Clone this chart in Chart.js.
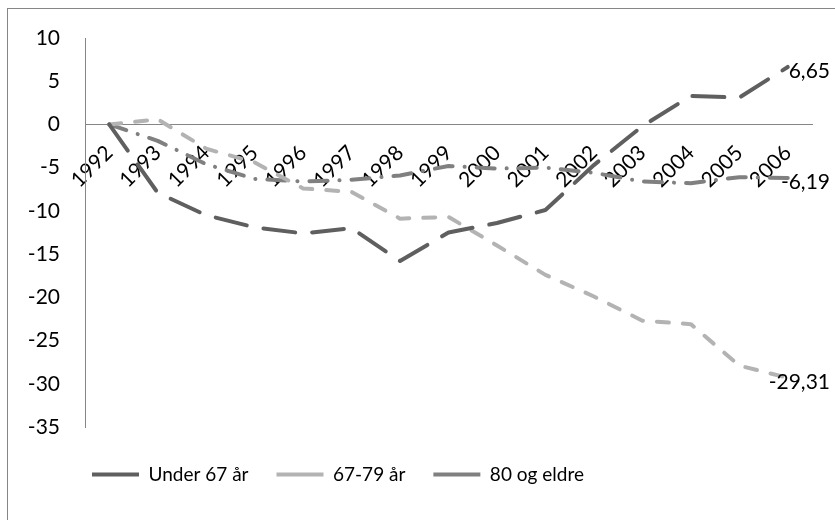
<!DOCTYPE html>
<html>
<head>
<meta charset="utf-8">
<script src="https://cdn.jsdelivr.net/npm/chart.js@4.4.1/dist/chart.umd.min.js"></script>
<style>
  html, body { margin: 0; padding: 0; background: #ffffff; }
  canvas { display: block; }
</style>
</head>
<body>
<canvas id="chart" width="835" height="520"></canvas>
<script>
// Endringer per aldersgruppe, 1992–2006
const years = ['1992', '1993', '1994', '1995', '1996', '1997', '1998', '1999', '2000', '2001', '2002', '2003', '2004', '2005', '2006'];
const under67 = [0, -7.9, -10.5, -11.9, -12.6, -12.0, -15.8, -12.5, -11.4, -9.9, -4.7, -0.2, 3.3, 3.1, 6.65];
const age67to79 = [0, 0.6, -2.8, -4.4, -7.4, -7.8, -10.9, -10.7, -14.0, -17.4, -19.9, -22.7, -23.1, -27.9, -29.31];
const age80plus = [0, -1.9, -4.6, -6.3, -6.6, -6.4, -5.9, -4.8, -5.1, -5.0, -5.6, -6.6, -6.8, -6.1, -6.19];
const seriesNames = ['Under 67 år', '67-79 år', '80 og eldre'];
const yTicks = { min: -35, max: 10, step: 5 };

const FAMILY = 'Lato, "Liberation Sans", sans-serif';
const AXIS_FONT = { family: FAMILY, size: 21 };
const LEGEND_FONT = { family: FAMILY, size: 19 };

// Outer chart frame
const framePlugin = {
  id: 'frame',
  beforeDraw(chart) {
    const ctx = chart.ctx;
    ctx.save();
    ctx.fillStyle = '#ffffff';
    ctx.fillRect(0, 0, chart.width, chart.height);
    ctx.strokeStyle = '#868686';
    ctx.lineWidth = 1;
    ctx.strokeRect(7.5, 8.5, chart.width + 20, chart.height + 20);
    ctx.restore();
  }
};

// Place the legend row under the plot, starting just right of the y axis
const legendOffsetPlugin = {
  id: 'legendOffset',
  afterLayout(chart) {
    const legend = chart.legend;
    if (!legend) return;
    const pad = legend.options.labels.padding;
    const dx = chart.chartArea.left + 7 - (legend.left + pad);
    legend.left += dx;
    legend.right += dx;
    legend.top += 10;
    legend.bottom += 10;
  }
};

// Value label at the last point of each series
const endLabelPlugin = {
  id: 'endLabels',
  afterDatasetsDraw(chart) {
    const ctx = chart.ctx;
    ctx.save();
    ctx.font = `${AXIS_FONT.size}px ${AXIS_FONT.family}`;
    ctx.fillStyle = '#000000';
    ctx.textAlign = 'left';
    ctx.textBaseline = 'middle';
    chart.data.datasets.forEach((ds, i) => {
      const meta = chart.getDatasetMeta(i);
      const last = ds.data.length - 1;
      const pt = meta.data[last];
      const text = ds.data[last].toFixed(2).replace('.', ',');
      const w = ctx.measureText(text).width;
      const x = Math.min(pt.x + 3, chart.width - 5 - w);
      ctx.fillText(text, x, pt.y + 4);
    });
    ctx.restore();
  }
};

new Chart(document.getElementById('chart'), {
  type: 'line',
  data: {
    labels: years,
    datasets: [
      {
        label: seriesNames[0],
        data: under67,
        borderColor: '#5f5f5f',
        backgroundColor: '#5f5f5f',
        borderWidth: 4,
        borderDash: [32, 17],
        borderCapStyle: 'round',
        borderJoinStyle: 'round',
        pointRadius: 0,
        tension: 0
      },
      {
        label: seriesNames[1],
        data: age67to79,
        borderColor: '#b3b3b3',
        backgroundColor: '#b3b3b3',
        borderWidth: 4,
        borderDash: [12, 14],
        borderCapStyle: 'round',
        borderJoinStyle: 'round',
        pointRadius: 0,
        tension: 0
      },
      {
        label: seriesNames[2],
        data: age80plus,
        borderColor: '#808080',
        backgroundColor: '#808080',
        borderWidth: 4,
        borderDash: [18, 12, 0.1, 12],
        borderCapStyle: 'round',
        borderJoinStyle: 'round',
        pointRadius: 0,
        tension: 0
      }
    ]
  },
  options: {
    responsive: false,
    animation: false,
    devicePixelRatio: 1,
    layout: { padding: { left: 8, right: 23, top: 38, bottom: 36 } },
    scales: {
      x: {
        type: 'category',
        offset: true,
        position: { y: 0 },
        grid: { display: false, drawTicks: false },
        border: { display: true, color: '#868686', width: 1 },
        ticks: {
          autoSkip: false,
          minRotation: 45,
          maxRotation: 45,
          padding: 16,
          color: '#000000',
          font: AXIS_FONT
        },
        afterFit(scale) {
          scale.paddingLeft = 0;
          scale.paddingRight = 0;
        }
      },
      y: {
        min: yTicks.min,
        max: yTicks.max,
        grid: { display: false, drawTicks: false },
        border: { display: true, color: '#868686', width: 1 },
        ticks: {
          stepSize: yTicks.step,
          padding: 25,
          color: '#000000',
          font: AXIS_FONT
        },
        afterFit(scale) {
          scale.width = 77;
          scale.paddingTop = 0;
          scale.paddingBottom = 0;
        }
      }
    },
    plugins: {
      legend: {
        position: 'bottom',
        align: 'start',
        labels: {
          usePointStyle: true,
          pointStyle: 'line',
          pointStyleWidth: 47,
          padding: 28,
          color: '#000000',
          font: LEGEND_FONT
        }
      },
      tooltip: { enabled: false }
    }
  },
  plugins: [framePlugin, legendOffsetPlugin, endLabelPlugin]
});
</script>
</body>
</html>
